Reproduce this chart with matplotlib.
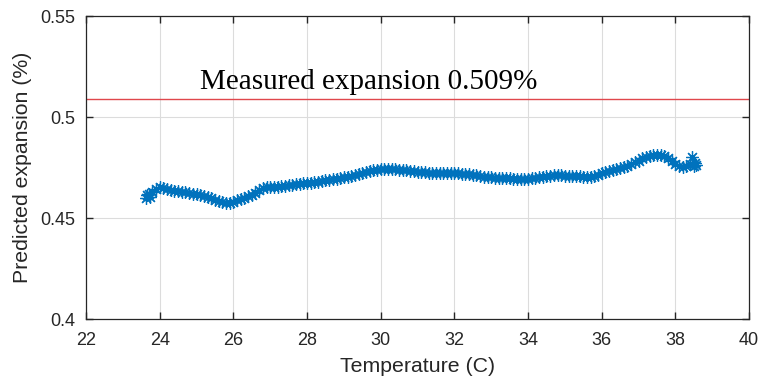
import matplotlib.pyplot as plt

# === DATA ===
temperature = [
    23.62, 23.66, 23.70, 23.74, 23.8, 23.9, 24.0, 24.1, 24.2, 24.3, 24.4, 24.5, 24.6, 24.7,
    24.8, 24.9, 25.0, 25.1, 25.2, 25.3, 25.4, 25.5, 25.6, 25.7, 25.8, 25.9,
    26.0, 26.1, 26.2, 26.3, 26.4, 26.5, 26.6, 26.7, 26.8, 26.9,
    27.0, 27.1, 27.2, 27.3, 27.4, 27.5, 27.6, 27.7, 27.8, 27.9,
    28.0, 28.1, 28.2, 28.3, 28.4, 28.5, 28.6, 28.7, 28.8, 28.9,
    29.0, 29.1, 29.2, 29.3, 29.4, 29.5, 29.6, 29.7, 29.8, 29.9,
    30.0, 30.1, 30.2, 30.3, 30.4, 30.5, 30.6, 30.7, 30.8, 30.9,
    31.0, 31.1, 31.2, 31.3, 31.4, 31.5, 31.6, 31.7, 31.8, 31.9,
    32.0, 32.1, 32.2, 32.3, 32.4, 32.5, 32.6, 32.7, 32.8, 32.9,
    33.0, 33.1, 33.2, 33.3, 33.4, 33.5, 33.6, 33.7, 33.8, 33.9,
    34.0, 34.1, 34.2, 34.3, 34.4, 34.5, 34.6, 34.7, 34.8, 34.9,
    35.0, 35.1, 35.2, 35.3, 35.4, 35.5, 35.6, 35.7, 35.8, 35.9,
    36.0, 36.1, 36.2, 36.3, 36.4, 36.5, 36.6, 36.7, 36.8, 36.9,
    37.0, 37.1, 37.2, 37.3, 37.4, 37.5, 37.6, 37.7, 37.8, 37.9,
    38.0, 38.1, 38.2, 38.3, 38.4, 38.45, 38.52, 38.55, 38.5,
]
expansion = [
    0.4600, 0.4612, 0.4620, 0.4605, 0.4628, 0.4642, 0.4652, 0.4650, 0.4645, 0.4638, 0.4634,
    0.4632, 0.4629, 0.4627,
    0.4624, 0.4621, 0.4617, 0.4613, 0.4608, 0.4603, 0.4597, 0.4591, 0.4586, 0.4581, 0.4576, 0.4574,
    0.4580, 0.4589, 0.4595, 0.4601, 0.4607, 0.4614, 0.4625, 0.4638, 0.4648, 0.4652,
    0.4653, 0.4652, 0.4654, 0.4657, 0.4660, 0.4662, 0.4664, 0.4666, 0.4668, 0.4671,
    0.4673, 0.4675, 0.4678, 0.4680, 0.4683, 0.4686, 0.4689, 0.4692, 0.4695, 0.4699,
    0.4702, 0.4705, 0.4708, 0.4712, 0.4716, 0.4722, 0.4728, 0.4733, 0.4736, 0.4739,
    0.4741, 0.4743, 0.4744, 0.4744, 0.4742, 0.4740, 0.4738, 0.4736, 0.4733, 0.4731,
    0.4729, 0.4727, 0.4726, 0.4725, 0.4724, 0.4723, 0.4722, 0.4722, 0.4723, 0.4723,
    0.4722, 0.4721, 0.4720, 0.4719, 0.4718, 0.4715, 0.4712, 0.4708, 0.4705, 0.4703,
    0.4701, 0.4700, 0.4699, 0.4698, 0.4698, 0.4697, 0.4695, 0.4694, 0.4693, 0.4693,
    0.4695, 0.4697, 0.4700, 0.4703, 0.4705, 0.4707, 0.4710, 0.4712, 0.4713, 0.4712,
    0.4710, 0.4709, 0.4708, 0.4707, 0.4706, 0.4704, 0.4703, 0.4704, 0.4708, 0.4715,
    0.4722, 0.4729, 0.4735, 0.4740, 0.4745, 0.4748, 0.4752, 0.4758, 0.4766, 0.4775,
    0.4784, 0.4795, 0.4802, 0.4807, 0.4810, 0.4812, 0.4810, 0.4805, 0.4795, 0.4780,
    0.4765, 0.4755, 0.4752, 0.4758, 0.4768, 0.4800, 0.4770, 0.4760, 0.4755,
]
measured = 0.509
x_ticks = [22, 24, 26, 28, 30, 32, 34, 36, 38, 40]
y_ticks = [0.4, 0.45, 0.5, 0.55]
y_tick_labels = ["0.4", "0.45", "0.5", "0.55"]

# === STYLE ===
plt.rcParams['font.family'] = ['Liberation Sans', 'DejaVu Sans']
axis_color = "#262626"
line_blue = "#0072bd"

fig = plt.figure(figsize=(7.62, 3.81), dpi=100)
ax = fig.add_axes([0.1129, 0.1627, 0.8701, 0.7953])

ax.plot(temperature, expansion, linestyle='-', linewidth=0.6, color=line_blue,
        marker=(8, 2, 0), markersize=9, markeredgewidth=0.9,
        markeredgecolor=line_blue)
ax.axhline(measured, color="#e0474c", linewidth=1.0)
ax.text(25.1, 0.5139, "Measured expansion 0.509%", family='Liberation Serif',
        fontsize=21, color='black', va='baseline', ha='left')

ax.set_xlim(22, 40)
ax.set_ylim(0.4, 0.55)
ax.set_xticks(x_ticks)
ax.set_yticks(y_ticks)
ax.set_yticklabels(y_tick_labels)
ax.set_xlabel("Temperature (C)", fontsize=15.3, color=axis_color, labelpad=6)
ax.set_ylabel("Predicted expansion (%)", fontsize=15.3, color=axis_color, labelpad=6)

ax.grid(True, color="#dcdcdc", linewidth=0.8)
ax.set_axisbelow(True)
ax.tick_params(direction='in', length=5, width=1, top=True, right=True,
               labelsize=13, colors=axis_color)
ax.tick_params(axis='x', pad=9)
ax.tick_params(axis='y', pad=8)
for spine in ax.spines.values():
    spine.set_color(axis_color)
    spine.set_linewidth(0.9)

fig.savefig("out.png", dpi=100)
